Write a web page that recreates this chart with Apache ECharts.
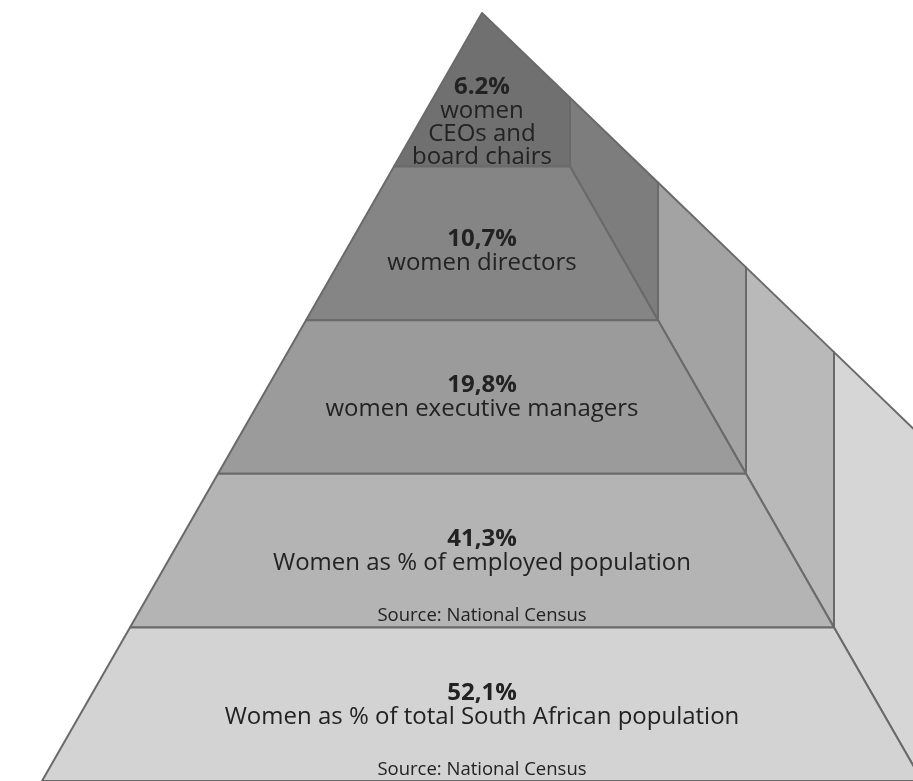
<!DOCTYPE html>
<html>
<head>
<meta charset="utf-8">
<script src="https://cdn.jsdelivr.net/npm/echarts@6/dist/echarts.min.js"></script>
<style>
  html, body { margin: 0; padding: 0; background: #fff; }
  #chart { width: 913px; height: 781px; }
</style>
</head>
<body>
<div id="chart"></div>
<script>
// ─── 資料 ────────────────────────────────────────────────
const tierPct    = ['6.2%', '10,7%', '19,8%', '41,3%', '52,1%']
const tierLabel  = [
  'women\nCEOs and\nboard chairs',
  'women directors',
  'women executive managers',
  'Women as % of employed population',
  'Women as % of total South African population',
]
const tierSource = ['', '', '', 'Source: National Census', 'Source: National Census']

// 正面 / 側面 灰階
const frontColor = ['#707070', '#858585', '#9b9b9b', '#b4b4b4', '#d3d3d3']
const sideColor  = ['#707070', '#7d7d7d', '#a3a3a3', '#b9b9b9', '#d6d6d6']

// 外側斜邊：每往右 1 單位，往下 sideSlope 層
const sideSlope = 0.552
const fontFamily = '"Open Sans", "Noto Sans", sans-serif'

const chart = echarts.init(document.getElementById('chart'))

const renderTier = (params, api) => {
  const i   = api.value(0)
  const top = i
  const bot = i + 1
  const P = (x, y) => api.coord([x, y])
  const edge = { stroke: '#6a6a6a', lineWidth: 2, lineJoin: 'round' }
  const children = []

  if (i === 0) {
    // 最上層：正面與側面同色，合成一塊
    children.push({
      type: 'polygon',
      shape: { points: [P(0, 0), P(-1, 1), P(1, 1), P(1, sideSlope)] },
      style: Object.assign({ fill: frontColor[0] }, edge),
    })
  } else {
    children.push({
      type: 'polygon',
      shape: { points: [P(top, top), P(bot, bot), P(bot, bot * sideSlope), P(top, top * sideSlope)] },
      style: Object.assign({ fill: sideColor[i] }, edge),
    })
    children.push({
      type: 'polygon',
      shape: { points: [P(-top, top), P(-bot, bot), P(bot, bot), P(top, top)] },
      style: Object.assign({ fill: frontColor[i] }, edge),
    })
  }

  // 文字區塊（上面兩層較窄，往下挪一點）
  const mid = i === 0 ? 0.71 : (i === 1 ? 1.545 : i + 0.5)
  const c = P(0, mid)
  children.push({
    type: 'text',
    style: {
      x: c[0],
      y: c[1],
      text: '{b|' + tierPct[i] + '}\n' + tierLabel[i],
      align: 'center',
      verticalAlign: 'middle',
      fill: '#222',
      fontFamily: fontFamily,
      fontSize: 24,
      lineHeight: 23,
      rich: {
        b: { fontWeight: 'bold', fontSize: 24, lineHeight: 25, fontFamily: fontFamily, fill: '#222' },
      },
    },
  })

  if (tierSource[i]) {
    const s = P(0, bot - 0.075)
    children.push({
      type: 'text',
      style: {
        x: s[0], y: s[1],
        text: tierSource[i],
        align: 'center',
        verticalAlign: 'middle',
        fill: '#222',
        fontFamily: fontFamily,
        fontSize: 18.5,
      },
    })
  }

  return { type: 'group', children }
}

chart.setOption({
  animation: false,
  grid: { left: 0, top: 13, width: 913, height: 770 },
  xAxis: { type: 'value', min: -482 / 88, max: (913 - 482) / 88, show: false },
  yAxis: { type: 'value', min: 0, max: 5, inverse: true, show: false },
  series: [{
    type: 'custom',
    clip: false,
    renderItem: renderTier,
    data: tierPct.map((p, i) => [i]),
  }],
})
</script>
</body>
</html>
